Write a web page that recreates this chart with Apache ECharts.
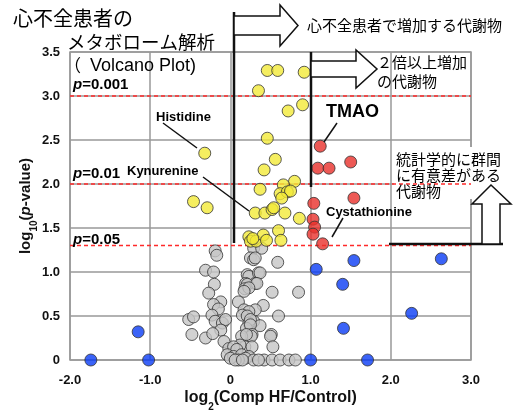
<!DOCTYPE html>
<html><head><meta charset="utf-8">
<script src="https://cdn.jsdelivr.net/npm/echarts@6/dist/echarts.min.js"></script>
<style>html,body{margin:0;padding:0;background:#fff}#c{width:516px;height:412px}</style>
</head><body><div id="c"></div>
<script>
// log2(fold change), -log10(p)
const grayData = [
[-0.19,1.24],[-0.17,1.19],[0.29,1.27],[0.39,1.27],[0.25,1.16],[0.29,1.14],[0.31,1.16],[0.59,1.11],
[-0.31,1.02],[-0.21,1.0],[0.21,0.97],[0.23,0.95],[0.35,0.99],[0.37,0.99],
[-0.20,0.86],[0.19,0.87],[0.31,0.87],[0.21,0.86],[0.33,0.87],[0.18,0.81],[0.23,0.82],
[-0.27,0.76],[0.52,0.77],[0.85,0.77],[0.17,0.78],
[-0.12,0.66],[0.10,0.66],[-0.21,0.63],[0.41,0.62],[-0.15,0.58],[0.17,0.57],[0.31,0.57],[0.23,0.55],
[-0.23,0.51],[0.15,0.51],[0.60,0.50],[0.21,0.50],
[-0.52,0.46],[-0.46,0.49],[-0.19,0.44],[-0.10,0.42],[-0.06,0.46],[0.29,0.44],[0.23,0.42],[0.25,0.46],
[0.37,0.39],[0.20,0.36],[0.25,0.40],[-0.12,0.34],
[-0.48,0.29],[-0.31,0.25],[-0.22,0.30],[0.27,0.29],[0.51,0.29],[0.26,0.27],[0.14,0.27],[0.20,0.29],[0.50,0.27],
[-0.08,0.21],[0.18,0.15],[0.12,0.17],[0.53,0.15],[0.27,0.15],[-0.02,0.13],[0.04,0.15],[0.08,0.12],
[-0.04,0.06],[0.04,0.04],[0.14,0.06],[0.23,0.04],[0.19,0.02],
[0.29,0],[0.42,0],[0.52,0],[0.62,0],[0.73,0],[0.81,0],[0.35,0],[0.10,0],[0.0,0.02],[0.06,0],[0.15,0]
];
const blueData = [
[-1.74,0],[-1.02,0],[-1.15,0.32],[1.0,0],[1.07,1.03],[1.40,0.86],[1.41,0.36],
[1.54,1.13],[1.71,0],[2.26,0.53],[2.63,1.15]
];
const redData = [
[1.12,2.43],[1.09,2.18],[1.23,2.18],[1.50,2.25],[1.54,1.84],[1.04,1.78],
[1.03,1.60],[1.05,1.51],[1.03,1.43],[1.15,1.32]
];
const yellowData = [
[0.46,3.29],[0.59,3.29],[0.92,3.27],[0.35,3.06],[0.72,2.83],[0.90,2.90],[0.46,2.52],
[-0.32,2.35],[0.56,2.28],[0.42,2.16],[0.80,2.03],[0.66,1.99],[0.37,1.94],[0.62,1.89],
[0.71,1.91],[0.75,1.92],[0.64,1.84],[-0.46,1.80],[-0.29,1.73],[0.31,1.67],[0.43,1.67],
[0.52,1.71],[0.54,1.73],[0.68,1.67],[0.86,1.61],[0.23,1.40],[0.25,1.35],[0.32,1.35],
[0.41,1.42],[0.45,1.36],[0.60,1.47],[0.63,1.36],[0.28,1.38]
];
const thresholds = [3, 2, 1.301];
const pLabels = ['=0.001', '=0.01', '=0.05'];
const xRange = [-2, 3];

const chart = echarts.init(document.getElementById('c'), null, {renderer:'canvas'});
const LAT = '"Liberation Sans", Arial, sans-serif';
const CJK = '"Noto Sans CJK JP", sans-serif';
const lab = {fontFamily:LAT, fontWeight:'bold', fontSize:13, color:'#111'};
const fmt = v => v === 0 ? '0' : v.toFixed(1);
function pt(color){ return {color:color, borderColor:'#333', borderWidth:1}; }

function arrowRight(x0, yTop, yBot, xHead, hTop, hBot, xTip){
  const yMid = (hTop + hBot)/2;
  return [[x0,yTop],[xHead,yTop],[xHead,hTop],[xTip,yMid],[xHead,hBot],[xHead,yBot],[x0,yBot]];
}

const thresholdSeries = thresholds.map(t => ({
  type:'line', data:[[xRange[0], t],[xRange[1], t]], symbol:'none', silent:true, z:2,
  color:'#ff2a2a', itemStyle:{color:'#ff2a2a'},
  lineStyle:{color:'#ff2a2a', type:[4,3], width:1.4}
}));

chart.setOption({
  animation:false,
  backgroundColor:'#fff',
  grid:{left:70, right:45, top:52, bottom:52, show:true, borderColor:'#999', borderWidth:1.5,
        backgroundColor:'#fff', containLabel:false, outerBoundsMode:'none'},
  xAxis:{type:'value', min:xRange[0], max:xRange[1], interval:1,
    axisLine:{show:false}, axisTick:{show:false},
    splitLine:{show:true, lineStyle:{color:'#999', width:1.5}},
    axisLabel:Object.assign({formatter:fmt, margin:14}, lab),
    name:'{a|log}{s|2}{a|(Comp HF/Control)}', nameLocation:'middle', nameGap:28, nameMoveOverlap:false,
    nameTextStyle:{rich:{
      a:{fontFamily:LAT, fontWeight:'bold', fontSize:16, color:'#111', lineHeight:20},
      s:{fontFamily:LAT, fontWeight:'bold', fontSize:10, color:'#111', lineHeight:20, verticalAlign:'bottom', padding:[0,0,-4,0]}
    }}
  },
  yAxis:{type:'value', min:0, max:3.5, interval:0.5,
    axisLine:{show:false}, axisTick:{show:false},
    splitLine:{show:true, lineStyle:{color:'#999', width:1.5}},
    axisLabel:Object.assign({formatter:fmt, margin:10}, lab),
    name:'{a|log}{s|10}{a|(}{i|p}{a|-value)}', nameLocation:'middle', nameGap:35, nameRotate:90, nameMoveOverlap:false,
    nameTextStyle:{rich:{
      a:{fontFamily:LAT, fontWeight:'bold', fontSize:15, color:'#111', lineHeight:18},
      i:{fontFamily:LAT, fontWeight:'bold', fontStyle:'italic', fontSize:15, color:'#111', lineHeight:18},
      s:{fontFamily:LAT, fontWeight:'bold', fontSize:10, color:'#111', lineHeight:18, verticalAlign:'bottom', padding:[0,0,-4,0]}
    }}
  },
  series: thresholdSeries.concat([
    {type:'scatter', data:grayData, symbolSize:12, clip:false, itemStyle:pt('#c6c6c6'), z:3},
    {type:'scatter', data:blueData, symbolSize:12, clip:false, itemStyle:pt('#0a3cf5'), z:4},
    {type:'scatter', data:redData, symbolSize:12, clip:false, itemStyle:pt('#e8302a'), z:4},
    {type:'scatter', data:yellowData, symbolSize:12, clip:false, itemStyle:pt('#f3ea38'), z:5}
  ])
});

const pY = [
  chart.convertToPixel({yAxisIndex:0}, thresholds[0]) - 11,
  chart.convertToPixel({yAxisIndex:0}, thresholds[1]) - 10,
  chart.convertToPixel({yAxisIndex:0}, thresholds[2]) - 6
];

const VM = {verticalAlign:'middle', textVerticalAlign:'middle'};
function txt(text, x, y, font, extra){
  return {type:'text', z:100, style:Object.assign({text:text, x:x, y:y, font:font, fill:'#000'}, VM, extra||{})};
}
const g = [];
// title
g.push(txt('心不全患者の', 13, 18, '20px '+CJK));
g.push(txt('メタボローム解析', 67, 42, '18.5px '+CJK));
g.push({type:'text', z:100, style:Object.assign({text:'{c|（}{a|Volcano Plot)}', x:64, y:66,
  rich:{c:{font:'17px '+CJK, fill:'#000', padding:[0,9,0,0]}, a:{font:'18px '+LAT, fill:'#000'}}}, VM)});
// p labels
pY.forEach((yy,i)=>{
  g.push({type:'text', z:100, style:Object.assign({text:'{i|p}{a|'+pLabels[i]+'}', x:73, y:yy,
    rich:{i:{font:'italic bold 15px '+LAT, fill:'#000'}, a:{font:'bold 15px '+LAT, fill:'#000'}}}, VM)});
});
// black vertical lines
g.push({type:'line', z:100, shape:{x1:234, y1:12, x2:234, y2:243}, style:{stroke:'#111', lineWidth:2.5}});
g.push({type:'line', z:100, shape:{x1:311, y1:52, x2:311, y2:187}, style:{stroke:'#111', lineWidth:2.5}});
// arrow 1
g.push({type:'polygon', z:100, shape:{points:arrowRight(234,16,35,280,5,46,298)}, style:{fill:'#fff', stroke:'#111', lineWidth:1.5}});
g.push(txt('心不全患者で増加する代謝物', 307, 25, '15px '+CJK));
// arrow 2
g.push({type:'polygon', z:100, shape:{points:arrowRight(311,61,77,356,50,88,377)}, style:{fill:'#fff', stroke:'#111', lineWidth:1.5}});
g.push(txt('２倍以上増加', 377, 62, '15px '+CJK));
g.push(txt('の代謝物', 377, 81, '15px '+CJK));
// arrow 3 (up) with base line
g.push({type:'rect', z:1, shape:{x:394, y:147, width:118, height:52}, style:{fill:'#fff'}});
g.push({type:'line', z:100, shape:{x1:389, y1:244, x2:503, y2:244}, style:{stroke:'#111', lineWidth:2.5}});
g.push({type:'polygon', z:100, shape:{points:[[482,244],[482,204],[472,204],[491,185],[511,204],[500,204],[500,244]]}, style:{fill:'#fff', stroke:'#111', lineWidth:1.5}});
g.push({type:'text', z:100, style:{text:'統計学的に群間\nに有意差がある\n代謝物', x:396, y:151, font:'15px '+CJK, lineHeight:16, fill:'#000', verticalAlign:'top', textVerticalAlign:'top'}});
// metabolite labels
g.push(txt('Histidine', 156, 117, 'bold 13px '+LAT));
g.push({type:'line', z:100, shape:{x1:163, y1:123, x2:197, y2:148}, style:{stroke:'#111', lineWidth:1.5}});
g.push(txt('Kynurenine', 127, 171, 'bold 13px '+LAT));
g.push({type:'line', z:100, shape:{x1:203, y1:177, x2:249, y2:211}, style:{stroke:'#111', lineWidth:1.5}});
g.push(txt('TMAO', 326, 112, 'bold 18px '+LAT));
g.push({type:'line', z:100, shape:{x1:337, y1:123, x2:324, y2:142}, style:{stroke:'#111', lineWidth:1.5}});
g.push(txt('Cystathionine', 326, 212, 'bold 13px '+LAT));
g.push({type:'line', z:100, shape:{x1:343, y1:218, x2:332, y2:237}, style:{stroke:'#111', lineWidth:1.5}});

chart.setOption({graphic:{elements:g}});
</script>
</body></html>
